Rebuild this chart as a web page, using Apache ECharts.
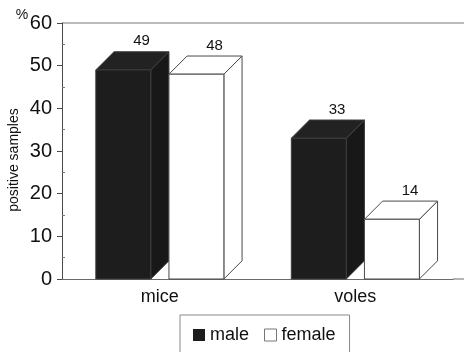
<!DOCTYPE html>
<html>
<head>
<meta charset="utf-8">
<script src="https://cdn.jsdelivr.net/npm/echarts@6/dist/echarts.min.js"></script>
<style>
  html, body { margin: 0; padding: 0; background: #fff; }
  #chart { width: 464px; height: 352px; }
</style>
</head>
<body>
<div id="chart"></div>
<script>
// Share of positive samples (%) by host species and sex
const categories = ['mice', 'voles'];
const maleValues = [49, 33];
const femaleValues = [48, 14];
const seriesNames = ['male', 'female'];
const yTicks = { min: 0, max: 60, interval: 10 };

const FONT = '"Liberation Sans", Arial, sans-serif';

// Box geometry as fractions of one category band
const BAR_W = 0.281;      // front face width
const DEPTH = 0.093;      // oblique depth offset (x and y)
const GROUP_HALF = 0.327; // offset of first front face from band centre

const styles = [
  { front: '#1d1d1d', side: '#181818', top: '#222222', edge: '#3c3c3c' },
  { front: '#ffffff', side: '#ffffff', top: '#ffffff', edge: '#4a4a4a' }
];

function makeRender(slot) {
  const st = styles[slot];
  return function (params, api) {
    const cat = api.value(0);
    const val = api.value(1);
    const base = api.coord([cat, 0]);
    const topPt = api.coord([cat, val]);
    const band = api.size([1, 0])[0];
    const w = band * BAR_W;
    const d = band * DEPTH;
    const x0 = base[0] - band * GROUP_HALF + slot * (w + d);
    const x1 = x0 + w;
    const yb = base[1];
    const yt = topPt[1];
    const lw = 1;
    return {
      type: 'group',
      children: [
        {
          type: 'polygon',
          shape: { points: [[x1, yb], [x1, yt], [x1 + d, yt - d], [x1 + d, yb - d]] },
          style: { fill: st.side, stroke: st.edge, lineWidth: lw }
        },
        {
          type: 'polygon',
          shape: { points: [[x0, yt], [x1, yt], [x1 + d, yt - d], [x0 + d, yt - d]] },
          style: { fill: st.top, stroke: st.edge, lineWidth: lw }
        },
        {
          type: 'rect',
          shape: { x: x0, y: yt, width: w, height: yb - yt },
          style: { fill: st.front, stroke: st.edge, lineWidth: lw }
        },
        {
          type: 'text',
          style: {
            x: x0 + d + w / 2,
            y: yt - d - 3,
            text: String(val),
            align: 'center',
            verticalAlign: 'bottom',
            fill: '#111',
            font: '15px ' + FONT
          }
        }
      ]
    };
  };
}

const chart = echarts.init(document.getElementById('chart'), null, { renderer: 'canvas' });

chart.setOption({
  backgroundColor: '#ffffff',
  animation: false,
  grid: { left: 62, right: 11, top: 23, bottom: 73, containLabel: false },
  xAxis: {
    type: 'category',
    data: categories,
    axisLine: { show: true, lineStyle: { color: '#6a6a6a', width: 1 } },
    axisTick: { show: false },
    axisLabel: { color: '#111', fontSize: 18, fontFamily: FONT, margin: 9 }
  },
  yAxis: [
    {
      type: 'value',
      min: yTicks.min,
      max: yTicks.max,
      interval: yTicks.interval,
      axisLine: { show: true, lineStyle: { color: '#4a4a4a', width: 1 } },
      axisTick: { show: true, length: 5, lineStyle: { color: '#4a4a4a' } },
      axisLabel: { color: '#111', fontSize: 20, fontFamily: FONT, margin: 10 },
      splitLine: { show: false }
    },
    {
      type: 'value',
      position: 'left',
      min: yTicks.min,
      max: yTicks.max,
      interval: yTicks.interval,
      axisLine: { show: false },
      axisTick: { show: false, inside: true },
      minorTick: { show: true, splitNumber: 2, length: 3, lineStyle: { color: '#777' } },
      axisLabel: { show: false },
      splitLine: { show: false }
    }
  ],
  legend: {
    left: 180,
    top: 315,
    padding: [11, 14, 30, 13],
    borderColor: '#888',
    borderWidth: 1,
    itemWidth: 12,
    itemHeight: 12,
    itemGap: 15,
    textStyle: { color: '#111', fontSize: 18, fontFamily: FONT },
    data: [
      { name: 'male', icon: 'rect', itemStyle: { color: '#1d1d1d', borderWidth: 0 } },
      { name: 'female', icon: 'rect', itemStyle: { color: '#ffffff', borderColor: '#777', borderWidth: 1 } }
    ]
  },
  graphic: [
    { type: 'line', shape: { x1: 62, y1: 23, x2: 464, y2: 23 }, style: { stroke: '#777', lineWidth: 1 } },
    { type: 'line', shape: { x1: 453, y1: 279, x2: 464, y2: 279 }, style: { stroke: '#6a6a6a', lineWidth: 1 } },
    {
      type: 'text', x: 14, y: 160, rotation: Math.PI / 2,
      style: { text: 'positive samples', align: 'center', verticalAlign: 'middle', fill: '#111', font: '14px ' + FONT }
    },
    {
      type: 'text', x: 22, y: 15,
      style: { text: '%', align: 'center', verticalAlign: 'middle', fill: '#111', font: '14px ' + FONT }
    }
  ],
  series: [
    {
      name: seriesNames[0],
      type: 'custom',
      itemStyle: { color: '#1d1d1d' },
      renderItem: makeRender(0),
      data: maleValues.map((v, i) => [i, v]),
      z: 2
    },
    {
      name: seriesNames[1],
      type: 'custom',
      itemStyle: { color: '#ffffff', borderColor: '#777' },
      renderItem: makeRender(1),
      data: femaleValues.map((v, i) => [i, v]),
      z: 2
    }
  ]
});
</script>
</body>
</html>
